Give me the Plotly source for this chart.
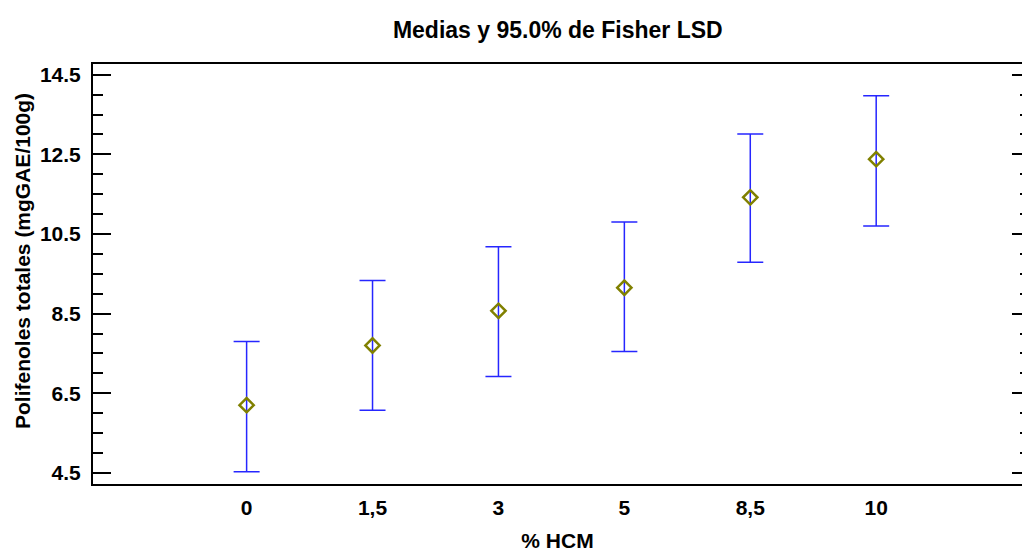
import plotly.graph_objects as go

categories = ["0", "1,5", "3", "5", "8,5", "10"]
means = [6.20, 7.70, 8.57, 9.15, 11.42, 12.38]
upper = [7.80, 9.33, 10.18, 10.80, 13.01, 13.97]
lower = [4.53, 6.07, 6.92, 7.55, 9.79, 10.70]
y_ticks = [4.5, 6.5, 8.5, 10.5, 12.5, 14.5]

pos = list(range(len(categories)))
err_plus = [u - m for u, m in zip(upper, means)]
err_minus = [m - l for m, l in zip(means, lower)]

FAM = "Liberation Sans, Arial"
tick_font = dict(family=FAM, size=21, color="black")

fig = go.Figure()
fig.add_trace(go.Scatter(
    x=pos, y=means, mode="markers",
    marker=dict(symbol="diamond-open", size=11, color="#808000",
                line=dict(width=2.5, color="#808000")),
    error_y=dict(type="data", symmetric=False, array=err_plus, arrayminus=err_minus,
                 color="#2626ff", thickness=1.5, width=13),
    showlegend=False,
))
# invisible trace for right mirrored ticks
fig.add_trace(go.Scatter(x=[0], y=[means[0]], yaxis="y2", mode="markers",
                         marker=dict(opacity=0), showlegend=False, hoverinfo="skip"))

yr = [4.22, 14.77]
minor_vals = [v + d for v in y_ticks[:-1] for d in (0.5, 1.0, 1.5)]
fig.update_layout(
    width=1022, height=552,
    margin=dict(l=93, r=0, t=64, b=68),
    paper_bgcolor="white", plot_bgcolor="white",
    title=dict(text="<b>Medias y 95.0% de Fisher LSD</b>", x=0.5458, xanchor="center",
               y=0.945, yanchor="middle", font=dict(family=FAM, size=23, color="black")),
    xaxis=dict(range=[-1.22, 6.158], tickvals=pos, ticktext=["<b>%s</b>" % c for c in categories],
               showgrid=False, zeroline=False, showline=True, linecolor="black", linewidth=2,
               mirror=True, ticks="", tickfont=tick_font, ticklabelstandoff=4,
               title=dict(text="<b>% HCM</b>", font=dict(family=FAM, size=21, color="black"),
                          standoff=17)),
    yaxis=dict(range=yr, tickvals=y_ticks, ticktext=["<b>%s</b>" % t for t in y_ticks],
               showgrid=False, zeroline=False, showline=True, linecolor="black", linewidth=2,
               ticks="inside", ticklen=18, tickwidth=2, tickcolor="black", tickfont=tick_font,
               ticklabelstandoff=6,
               minor=dict(tickvals=minor_vals, ticks="inside", ticklen=10, tickwidth=2,
                          tickcolor="black")),
    yaxis2=dict(range=yr, overlaying="y", side="right", tickvals=y_ticks, showticklabels=False,
                showgrid=False, zeroline=False, showline=False,
                ticks="inside", ticklen=10, tickwidth=2, tickcolor="black",
                minor=dict(tickvals=minor_vals, ticks="inside", ticklen=2, tickwidth=2,
                           tickcolor="black")),
    annotations=[dict(text="<b>Polifenoles totales (mgGAE/100g)</b>", textangle=-90,
                      xref="paper", yref="paper", x=(22 - 93) / 929, y=(484 - 261) / 420,
                      xanchor="center", yanchor="middle", showarrow=False,
                      font=dict(family=FAM, size=21, color="black"))],
)
fig.write_html("out.html")
